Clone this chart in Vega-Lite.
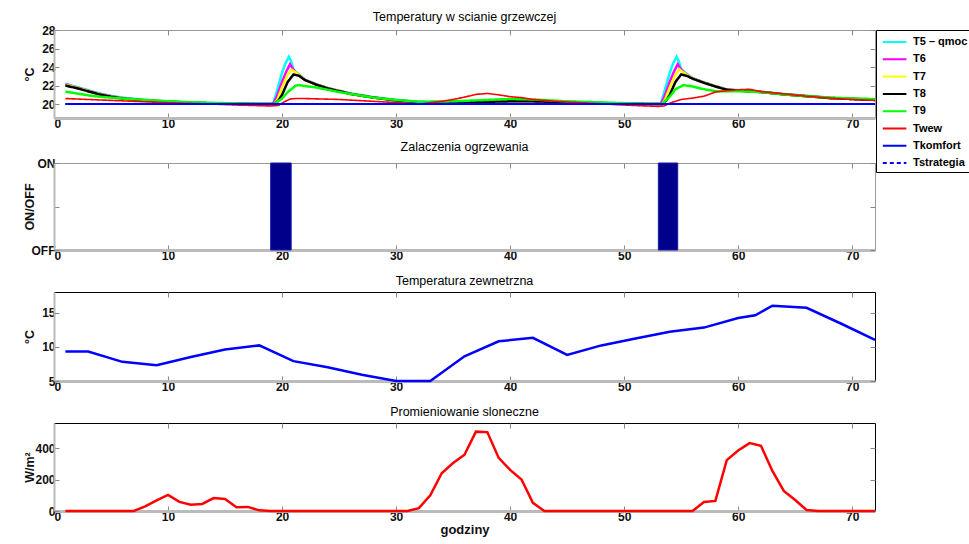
{
  "$schema": "https://vega.github.io/schema/vega-lite/v6.json",
  "padding": {"top": 10, "left": 22, "right": 0, "bottom": 0},
  "spacing": 10,
  "config": {
    "font": "Liberation Sans",
    "view": {"stroke": "#999999", "strokeWidth": 1},
    "title": {"fontSize": 12.5, "fontWeight": "normal", "color": "#000000", "offset": 4, "font": "Liberation Sans", "frame": "group"},
    "axis": {
      "grid": false,
      "labelFont": "Liberation Sans",
      "labelFontWeight": "bold",
      "labelFontSize": 12,
      "labelColor": "#111111",
      "tickColor": "#888888",
      "tickSize": -5,
      "tickWidth": 1,
      "labelPadding": 5,
      "domainColor": "#bbbbbb",
      "domainWidth": 2,
      "titleFont": "Liberation Sans",
      "titleFontWeight": "bold",
      "titleFontSize": 12.5,
      "titleColor": "#111111"
    },
    "axisX": {"domainWidth": 3},
    "axisY": {"minExtent": 16, "maxExtent": 16, "titlePadding": 2, "labelPadding": 4}
  },
  "vconcat": [
    {
      "width": 821,
      "height": 88,
      "title": {"text": "Temperatury w scianie grzewczej", "offset": 1},
      "data": {"values": [
        {"t":1,"s":"T5 – qmoc","v":22.2},{"t":2,"s":"T5 – qmoc","v":21.85},{"t":3,"s":"T5 – qmoc","v":21.5},{"t":4,"s":"T5 – qmoc","v":21.15},{"t":5,"s":"T5 – qmoc","v":20.9},{"t":6,"s":"T5 – qmoc","v":20.7},{"t":8,"s":"T5 – qmoc","v":20.45},{"t":10,"s":"T5 – qmoc","v":20.3},{"t":12,"s":"T5 – qmoc","v":20.15},{"t":15,"s":"T5 – qmoc","v":20.05},{"t":19.2,"s":"T5 – qmoc","v":20.0},{"t":19.5,"s":"T5 – qmoc","v":21.2},{"t":20,"s":"T5 – qmoc","v":23.4},{"t":20.3,"s":"T5 – qmoc","v":24.4},{"t":20.6,"s":"T5 – qmoc","v":25.1},{"t":20.8,"s":"T5 – qmoc","v":24.6},{"t":21,"s":"T5 – qmoc","v":23.7},{"t":21.5,"s":"T5 – qmoc","v":23.2},{"t":22,"s":"T5 – qmoc","v":22.65},{"t":23,"s":"T5 – qmoc","v":22.15},{"t":24,"s":"T5 – qmoc","v":21.75},{"t":25,"s":"T5 – qmoc","v":21.45},{"t":26,"s":"T5 – qmoc","v":21.15},{"t":27,"s":"T5 – qmoc","v":20.95},{"t":28,"s":"T5 – qmoc","v":20.75},{"t":30,"s":"T5 – qmoc","v":20.45},{"t":32,"s":"T5 – qmoc","v":20.25},{"t":35,"s":"T5 – qmoc","v":20.2},{"t":38,"s":"T5 – qmoc","v":20.3},{"t":40,"s":"T5 – qmoc","v":20.35},{"t":42,"s":"T5 – qmoc","v":20.35},{"t":45,"s":"T5 – qmoc","v":20.25},{"t":50,"s":"T5 – qmoc","v":20.05},{"t":53.2,"s":"T5 – qmoc","v":20.0},{"t":53.5,"s":"T5 – qmoc","v":21.2},{"t":54,"s":"T5 – qmoc","v":23.4},{"t":54.3,"s":"T5 – qmoc","v":24.4},{"t":54.6,"s":"T5 – qmoc","v":25.1},{"t":54.8,"s":"T5 – qmoc","v":24.6},{"t":55,"s":"T5 – qmoc","v":23.8},{"t":55.5,"s":"T5 – qmoc","v":23.25},{"t":56,"s":"T5 – qmoc","v":22.8},{"t":57,"s":"T5 – qmoc","v":22.35},{"t":58,"s":"T5 – qmoc","v":21.95},{"t":59,"s":"T5 – qmoc","v":21.6},{"t":60,"s":"T5 – qmoc","v":21.5},{"t":62,"s":"T5 – qmoc","v":21.35},{"t":64,"s":"T5 – qmoc","v":21.1},{"t":66,"s":"T5 – qmoc","v":20.9},{"t":68,"s":"T5 – qmoc","v":20.7},{"t":70,"s":"T5 – qmoc","v":20.6},{"t":72,"s":"T5 – qmoc","v":20.5},

        {"t":1,"s":"T6","v":22.15},{"t":2,"s":"T6","v":21.8},{"t":3,"s":"T6","v":21.45},{"t":4,"s":"T6","v":21.1},{"t":5,"s":"T6","v":20.85},{"t":6,"s":"T6","v":20.65},{"t":8,"s":"T6","v":20.42},{"t":10,"s":"T6","v":20.27},{"t":12,"s":"T6","v":20.15},{"t":15,"s":"T6","v":20.05},{"t":19.2,"s":"T6","v":20.0},{"t":19.5,"s":"T6","v":20.7},{"t":20,"s":"T6","v":22.4},{"t":20.4,"s":"T6","v":23.6},{"t":20.7,"s":"T6","v":24.3},{"t":20.9,"s":"T6","v":23.9},{"t":21.2,"s":"T6","v":23.4},{"t":21.5,"s":"T6","v":23.15},{"t":22,"s":"T6","v":22.62},{"t":23,"s":"T6","v":22.12},{"t":24,"s":"T6","v":21.72},{"t":25,"s":"T6","v":21.42},{"t":26,"s":"T6","v":21.12},{"t":27,"s":"T6","v":20.92},{"t":28,"s":"T6","v":20.72},{"t":30,"s":"T6","v":20.42},{"t":32,"s":"T6","v":20.22},{"t":35,"s":"T6","v":20.17},{"t":38,"s":"T6","v":20.27},{"t":40,"s":"T6","v":20.32},{"t":42,"s":"T6","v":20.32},{"t":45,"s":"T6","v":20.22},{"t":50,"s":"T6","v":20.05},{"t":53.2,"s":"T6","v":20.0},{"t":53.5,"s":"T6","v":20.7},{"t":54,"s":"T6","v":22.4},{"t":54.4,"s":"T6","v":23.6},{"t":54.7,"s":"T6","v":24.3},{"t":54.9,"s":"T6","v":23.9},{"t":55.2,"s":"T6","v":23.45},{"t":55.5,"s":"T6","v":23.2},{"t":56,"s":"T6","v":22.78},{"t":57,"s":"T6","v":22.32},{"t":58,"s":"T6","v":21.92},{"t":59,"s":"T6","v":21.58},{"t":60,"s":"T6","v":21.48},{"t":62,"s":"T6","v":21.32},{"t":64,"s":"T6","v":21.07},{"t":66,"s":"T6","v":20.87},{"t":68,"s":"T6","v":20.67},{"t":70,"s":"T6","v":20.57},{"t":72,"s":"T6","v":20.47},

        {"t":1,"s":"T7","v":22.1},{"t":2,"s":"T7","v":21.77},{"t":3,"s":"T7","v":21.42},{"t":4,"s":"T7","v":21.07},{"t":5,"s":"T7","v":20.82},{"t":6,"s":"T7","v":20.62},{"t":8,"s":"T7","v":20.41},{"t":10,"s":"T7","v":20.26},{"t":12,"s":"T7","v":20.15},{"t":15,"s":"T7","v":20.05},{"t":19.3,"s":"T7","v":20.0},{"t":19.6,"s":"T7","v":20.5},{"t":20,"s":"T7","v":21.8},{"t":20.5,"s":"T7","v":23.2},{"t":20.85,"s":"T7","v":23.7},{"t":21.1,"s":"T7","v":23.5},{"t":21.5,"s":"T7","v":23.15},{"t":22,"s":"T7","v":22.61},{"t":23,"s":"T7","v":22.11},{"t":24,"s":"T7","v":21.71},{"t":25,"s":"T7","v":21.41},{"t":26,"s":"T7","v":21.11},{"t":27,"s":"T7","v":20.91},{"t":28,"s":"T7","v":20.71},{"t":30,"s":"T7","v":20.41},{"t":32,"s":"T7","v":20.21},{"t":35,"s":"T7","v":20.16},{"t":38,"s":"T7","v":20.26},{"t":40,"s":"T7","v":20.31},{"t":42,"s":"T7","v":20.31},{"t":45,"s":"T7","v":20.21},{"t":50,"s":"T7","v":20.05},{"t":53.3,"s":"T7","v":20.0},{"t":53.6,"s":"T7","v":20.5},{"t":54,"s":"T7","v":21.8},{"t":54.5,"s":"T7","v":23.2},{"t":54.85,"s":"T7","v":23.75},{"t":55.1,"s":"T7","v":23.5},{"t":55.5,"s":"T7","v":23.15},{"t":56,"s":"T7","v":22.77},{"t":57,"s":"T7","v":22.31},{"t":58,"s":"T7","v":21.91},{"t":59,"s":"T7","v":21.56},{"t":60,"s":"T7","v":21.46},{"t":62,"s":"T7","v":21.31},{"t":64,"s":"T7","v":21.06},{"t":66,"s":"T7","v":20.86},{"t":68,"s":"T7","v":20.66},{"t":70,"s":"T7","v":20.56},{"t":72,"s":"T7","v":20.46},

        {"t":1,"s":"T8","v":22.0},{"t":2,"s":"T8","v":21.72},{"t":3,"s":"T8","v":21.38},{"t":4,"s":"T8","v":21.04},{"t":5,"s":"T8","v":20.8},{"t":6,"s":"T8","v":20.6},{"t":8,"s":"T8","v":20.4},{"t":10,"s":"T8","v":20.25},{"t":12,"s":"T8","v":20.15},{"t":15,"s":"T8","v":20.05},{"t":19.3,"s":"T8","v":20.0},{"t":19.7,"s":"T8","v":20.4},{"t":20,"s":"T8","v":21.0},{"t":20.5,"s":"T8","v":22.4},{"t":21,"s":"T8","v":23.2},{"t":21.5,"s":"T8","v":23.05},{"t":22,"s":"T8","v":22.6},{"t":23,"s":"T8","v":22.1},{"t":24,"s":"T8","v":21.7},{"t":25,"s":"T8","v":21.4},{"t":26,"s":"T8","v":21.1},{"t":27,"s":"T8","v":20.9},{"t":28,"s":"T8","v":20.7},{"t":30,"s":"T8","v":20.4},{"t":32,"s":"T8","v":20.2},{"t":35,"s":"T8","v":20.15},{"t":38,"s":"T8","v":20.25},{"t":40,"s":"T8","v":20.3},{"t":42,"s":"T8","v":20.3},{"t":45,"s":"T8","v":20.2},{"t":50,"s":"T8","v":20.05},{"t":53.3,"s":"T8","v":20.0},{"t":53.7,"s":"T8","v":20.4},{"t":54,"s":"T8","v":21.0},{"t":54.5,"s":"T8","v":22.4},{"t":55,"s":"T8","v":23.2},{"t":55.5,"s":"T8","v":23.05},{"t":56,"s":"T8","v":22.75},{"t":57,"s":"T8","v":22.3},{"t":58,"s":"T8","v":21.9},{"t":59,"s":"T8","v":21.55},{"t":60,"s":"T8","v":21.45},{"t":62,"s":"T8","v":21.3},{"t":64,"s":"T8","v":21.05},{"t":66,"s":"T8","v":20.85},{"t":68,"s":"T8","v":20.65},{"t":70,"s":"T8","v":20.55},{"t":72,"s":"T8","v":20.45},

        {"t":1,"s":"T9","v":21.35},{"t":2,"s":"T9","v":21.15},{"t":3,"s":"T9","v":20.95},{"t":4,"s":"T9","v":20.8},{"t":5,"s":"T9","v":20.7},{"t":6,"s":"T9","v":20.6},{"t":8,"s":"T9","v":20.45},{"t":10,"s":"T9","v":20.3},{"t":12,"s":"T9","v":20.2},{"t":15,"s":"T9","v":20.1},{"t":19.3,"s":"T9","v":20.0},{"t":20,"s":"T9","v":20.6},{"t":20.5,"s":"T9","v":21.3},{"t":21.2,"s":"T9","v":22.0},{"t":21.5,"s":"T9","v":22.05},{"t":22,"s":"T9","v":21.95},{"t":23,"s":"T9","v":21.8},{"t":24,"s":"T9","v":21.55},{"t":25,"s":"T9","v":21.3},{"t":26,"s":"T9","v":21.1},{"t":27,"s":"T9","v":20.9},{"t":28,"s":"T9","v":20.7},{"t":30,"s":"T9","v":20.45},{"t":32,"s":"T9","v":20.25},{"t":35,"s":"T9","v":20.3},{"t":38,"s":"T9","v":20.45},{"t":40,"s":"T9","v":20.55},{"t":42,"s":"T9","v":20.5},{"t":45,"s":"T9","v":20.3},{"t":50,"s":"T9","v":20.1},{"t":53.3,"s":"T9","v":20.0},{"t":54,"s":"T9","v":20.8},{"t":54.5,"s":"T9","v":21.6},{"t":55.2,"s":"T9","v":22.05},{"t":56,"s":"T9","v":21.9},{"t":57,"s":"T9","v":21.6},{"t":58,"s":"T9","v":21.4},{"t":59,"s":"T9","v":21.4},{"t":60,"s":"T9","v":21.4},{"t":62,"s":"T9","v":21.3},{"t":64,"s":"T9","v":21.05},{"t":66,"s":"T9","v":20.85},{"t":68,"s":"T9","v":20.7},{"t":70,"s":"T9","v":20.6},{"t":72,"s":"T9","v":20.55},

        {"t":1,"s":"Twew","v":20.6},{"t":3,"s":"Twew","v":20.5},{"t":6,"s":"Twew","v":20.35},{"t":10,"s":"Twew","v":20.15},{"t":14,"s":"Twew","v":20.0},{"t":16,"s":"Twew","v":19.9},{"t":19,"s":"Twew","v":19.8},{"t":19.7,"s":"Twew","v":19.85},{"t":20.2,"s":"Twew","v":20.25},{"t":20.7,"s":"Twew","v":20.55},{"t":21.2,"s":"Twew","v":20.6},{"t":22,"s":"Twew","v":20.6},{"t":25,"s":"Twew","v":20.5},{"t":28,"s":"Twew","v":20.3},{"t":31,"s":"Twew","v":20.1},{"t":32,"s":"Twew","v":20.0},{"t":33,"s":"Twew","v":20.15},{"t":34,"s":"Twew","v":20.3},{"t":35,"s":"Twew","v":20.5},{"t":36,"s":"Twew","v":20.75},{"t":37,"s":"Twew","v":21.05},{"t":38,"s":"Twew","v":21.15},{"t":39,"s":"Twew","v":21.0},{"t":40,"s":"Twew","v":20.8},{"t":41,"s":"Twew","v":20.7},{"t":42,"s":"Twew","v":20.5},{"t":44,"s":"Twew","v":20.3},{"t":47,"s":"Twew","v":20.1},{"t":50,"s":"Twew","v":19.9},{"t":53,"s":"Twew","v":19.75},{"t":53.5,"s":"Twew","v":19.8},{"t":54,"s":"Twew","v":20.1},{"t":55,"s":"Twew","v":20.5},{"t":56,"s":"Twew","v":20.65},{"t":57,"s":"Twew","v":20.85},{"t":58,"s":"Twew","v":21.3},{"t":59,"s":"Twew","v":21.45},{"t":60,"s":"Twew","v":21.55},{"t":61,"s":"Twew","v":21.6},{"t":62,"s":"Twew","v":21.35},{"t":64,"s":"Twew","v":21.1},{"t":66,"s":"Twew","v":20.85},{"t":68,"s":"Twew","v":20.65},{"t":70,"s":"Twew","v":20.5},{"t":72,"s":"Twew","v":20.4},

        {"t":1,"s":"Tkomfort","v":20.0},{"t":72,"s":"Tkomfort","v":20.0},
        {"t":1,"s":"Tstrategia","v":20.0},{"t":72,"s":"Tstrategia","v":20.0}
      ]},
      "resolve": {"axis": {"x": "independent", "y": "independent"}},
      "layer": [
        {
          "encoding": {
            "x": {"field": "t", "type": "quantitative", "scale": {"domain": [0, 72], "nice": false},
                  "axis": {"title": null, "values": [0,10,20,30,40,50,60,70]}},
            "y": {"field": "v", "type": "quantitative", "scale": {"domain": [18.5, 28], "nice": false, "zero": false},
                  "axis": {"title": "°C", "values": [20,22,24,26,28]}},
            "color": {"field": "s", "type": "nominal",
              "scale": {"domain": ["T5 – qmoc","T6","T7","T8","T9","Twew","Tkomfort","Tstrategia"],
                        "range": ["#00FFFF","#FF00FF","#FFFF00","#000000","#00FF00","#FF0000","#0000FF","#0000FF"]},
              "legend": {"title": null, "orient": "none", "legendX": 822, "legendY": 0, "strokeColor": "#000000", "fillColor": "#ffffff",
                         "padding": 3, "symbolType": "M-0.65,0H2.3", "symbolSize": 256, "symbolStrokeWidth": 2,
                         "labelFontSize": 11, "labelFontWeight": "bold", "labelFont": "Liberation Sans", "labelColor": "#000000", "rowPadding": 3.3, "labelOffset": 16}},
            "strokeDash": {"field": "s", "type": "nominal",
              "scale": {"domain": ["T5 – qmoc","T6","T7","T8","T9","Twew","Tkomfort","Tstrategia"],
                        "range": [[1,0],[1,0],[1,0],[1,0],[1,0],[1,0],[1,0],[4,3]]},
              "legend": {"title": null, "orient": "none", "legendX": 822, "legendY": 0, "strokeColor": "#000000", "fillColor": "#ffffff",
                         "padding": 3, "symbolType": "M-0.65,0H2.3", "symbolSize": 256, "symbolStrokeWidth": 2,
                         "labelFontSize": 11, "labelFontWeight": "bold", "labelFont": "Liberation Sans", "labelColor": "#000000", "rowPadding": 3.3, "labelOffset": 16}}
          },
          "layer": [
            {
              "transform": [{"filter": "indexof(['Twew','Tkomfort','Tstrategia'], datum.s) < 0"}],
              "mark": {"type": "line", "strokeWidth": 2.5}
            },
            {
              "transform": [{"filter": "datum.s == 'Twew'"}],
              "mark": {"type": "line", "strokeWidth": 1.6}
            },
            {
              "transform": [{"filter": "datum.s == 'Tkomfort' || datum.s == 'Tstrategia'"}],
              "mark": {"type": "line", "strokeWidth": 2}
            }
          ]
        },
        {
          "mark": {"type": "point", "opacity": 0},
          "encoding": {
            "x": {"field": "t", "type": "quantitative", "axis": {"orient": "top", "labels": false, "domain": false, "title": null, "values": [0,10,20,30,40,50,60,70]}},
            "y": {"field": "v", "type": "quantitative", "axis": {"orient": "right", "labels": false, "domain": false, "title": null, "values": [20,22,24,26,28], "minExtent": 0, "maxExtent": 0}}
          }
        }
      ]
    },
    {
      "spacing": 12,
      "vconcat": [
        {
          "width": 821,
          "height": 87,
          "title": "Zalaczenia ogrzewania",
          "data": {"values": [{"start": 19, "end": 20.8, "on": 1}, {"start": 53, "end": 54.7, "on": 1}]},
          "resolve": {"axis": {"x": "independent", "y": "independent"}},
          "layer": [
            {
              "mark": {"type": "rect", "color": "#00008B", "stroke": "#1a1ab0", "strokeWidth": 1},
              "encoding": {
                "x": {"field": "start", "type": "quantitative", "scale": {"domain": [0, 72], "nice": false},
                      "axis": {"title": null, "values": [0,10,20,30,40,50,60,70]}},
                "x2": {"field": "end"},
                "y": {"field": "on", "type": "quantitative", "scale": {"domain": [0, 1], "nice": false},
                      "axis": {"title": "ON/OFF", "values": [0, 0.5, 1], "labelExpr": "datum.value == 1 ? 'ON' : (datum.value == 0 ? 'OFF' : '')"}},
                "y2": {"datum": 0}
              }
            },
            {
              "mark": {"type": "point", "opacity": 0},
              "encoding": {
                "x": {"field": "start", "type": "quantitative", "axis": {"orient": "top", "labels": false, "domain": false, "title": null, "values": [0,10,20,30,40,50,60,70]}},
                "y": {"field": "on", "type": "quantitative", "axis": {"orient": "right", "labels": false, "domain": false, "title": null, "values": [0, 0.5, 1], "minExtent": 0, "maxExtent": 0}}
              }
            }
          ]
        },
        {
          "width": 821,
          "height": 89,
          "title": "Temperatura zewnetrzna",
          "view": {"stroke": "#000000"},
          "data": {"values": [
            {"t":1,"v":9.3},{"t":3,"v":9.3},{"t":6,"v":7.8},{"t":9,"v":7.3},{"t":12,"v":8.5},{"t":15,"v":9.6},{"t":18,"v":10.2},{"t":21,"v":7.9},{"t":24,"v":7.0},{"t":27,"v":5.9},{"t":30,"v":5.0},{"t":33,"v":5.0},{"t":36,"v":8.6},{"t":39,"v":10.8},{"t":42,"v":11.3},{"t":45,"v":8.8},{"t":48,"v":10.2},{"t":51,"v":11.2},{"t":54,"v":12.2},{"t":57,"v":12.8},{"t":60,"v":14.2},{"t":61.5,"v":14.6},{"t":63,"v":16.0},{"t":66,"v":15.7},{"t":69,"v":13.4},{"t":72,"v":11.0}
          ]},
          "resolve": {"axis": {"x": "independent", "y": "independent"}},
          "layer": [
            {
              "mark": {"type": "line", "color": "#0000FF", "strokeWidth": 2.5},
              "encoding": {
                "x": {"field": "t", "type": "quantitative", "scale": {"domain": [0, 72], "nice": false},
                      "axis": {"title": null, "values": [0,10,20,30,40,50,60,70]}},
                "y": {"field": "v", "type": "quantitative", "scale": {"domain": [5, 18], "nice": false, "zero": false},
                      "axis": {"title": "°C", "values": [5, 10, 15]}}
              }
            },
            {
              "mark": {"type": "point", "opacity": 0},
              "encoding": {
                "x": {"field": "t", "type": "quantitative", "axis": {"orient": "top", "labels": false, "domain": false, "title": null, "values": [0,10,20,30,40,50,60,70]}},
                "y": {"field": "v", "type": "quantitative", "axis": {"orient": "right", "labels": false, "domain": false, "title": null, "values": [5, 10, 15], "minExtent": 0, "maxExtent": 0}}
              }
            }
          ]
        },
        {
          "width": 821,
          "height": 88,
          "title": "Promieniowanie sloneczne",
          "view": {"stroke": "#000000"},
          "data": {"values": [
            {"t":1,"v":0},{"t":7,"v":0},{"t":8,"v":30},{"t":9,"v":68},{"t":10,"v":103},{"t":11,"v":58},{"t":12,"v":40},{"t":13,"v":45},{"t":14,"v":82},{"t":15,"v":76},{"t":16,"v":24},{"t":17,"v":26},{"t":18,"v":4},{"t":19,"v":0},{"t":31,"v":0},{"t":32,"v":18},{"t":33,"v":100},{"t":34,"v":240},{"t":35,"v":305},{"t":36,"v":358},{"t":37,"v":505},{"t":38,"v":502},{"t":39,"v":338},{"t":40,"v":262},{"t":41,"v":200},{"t":42,"v":52},{"t":43,"v":0},{"t":56,"v":0},{"t":57,"v":57},{"t":58,"v":64},{"t":59,"v":324},{"t":60,"v":385},{"t":61,"v":432},{"t":62,"v":415},{"t":63,"v":255},{"t":64,"v":128},{"t":65,"v":70},{"t":66,"v":6},{"t":67,"v":0},{"t":72,"v":0}
          ]},
          "resolve": {"axis": {"x": "independent", "y": "independent"}},
          "layer": [
            {
              "mark": {"type": "line", "color": "#FF0000", "strokeWidth": 2.5},
              "encoding": {
                "x": {"field": "t", "type": "quantitative", "scale": {"domain": [0, 72], "nice": false},
                      "axis": {"title": "godziny", "titlePadding": 1, "titleFontSize": 13, "values": [0,10,20,30,40,50,60,70]}},
                "y": {"field": "v", "type": "quantitative", "scale": {"domain": [0, 560], "nice": false},
                      "axis": {"title": "W/m²", "values": [0, 200, 400]}}
              }
            },
            {
              "mark": {"type": "point", "opacity": 0},
              "encoding": {
                "x": {"field": "t", "type": "quantitative", "axis": {"orient": "top", "labels": false, "domain": false, "title": null, "values": [0,10,20,30,40,50,60,70]}},
                "y": {"field": "v", "type": "quantitative", "axis": {"orient": "right", "labels": false, "domain": false, "title": null, "values": [0, 200, 400], "minExtent": 0, "maxExtent": 0}}
              }
            }
          ]
        }
      ]
    }
  ]
}
